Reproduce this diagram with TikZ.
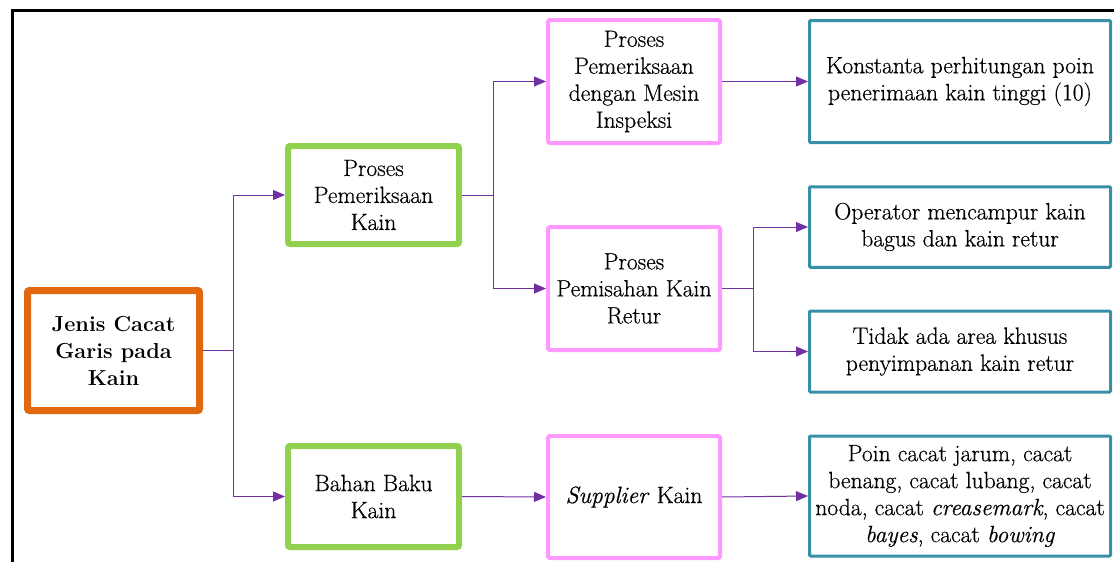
\documentclass[tikz,border=0pt]{standalone}
\usepackage{fontspec}
\setmainfont{Latin Modern Roman}[UprightFeatures={FakeBold=0.5}, ItalicFeatures={FakeBold=0.5}]
\usetikzlibrary{arrows.meta}
\definecolor{orangeB}{HTML}{E0680F}
\definecolor{greenB}{HTML}{92D050}
\definecolor{pinkB}{HTML}{FF99FF}
\definecolor{tealB}{HTML}{3A8FA8}
\definecolor{arrowC}{HTML}{7030A0}
\tikzset{
  box/.style={draw, rectangle, rounded corners=2pt, align=center, inner sep=2pt,
    font=\rmfamily\fontsize{23.6}{27}\selectfont, text=black, fill=white},
  rootbox/.style={box, draw=orangeB, line width=7pt, minimum width=172pt, minimum height=120pt,
    font=\rmfamily\fontsize{21.7}{27}\selectfont\bfseries},
  greenbox/.style={box, draw=greenB, line width=6pt, minimum width=171pt},
  pinkbox/.style={box, draw=pinkB, line width=4pt, minimum width=172pt},
  tealbox/.style={box, draw=tealB, line width=3pt, minimum width=301pt, rounded corners=1pt},
  conn/.style={draw=arrowC, line width=1pt, -{Triangle[length=12pt,width=10pt]}},
  link/.style={draw=arrowC, line width=1pt}
}
\begin{document}
\begin{tikzpicture}[x=1pt,y=-1pt]
\useasboundingbox (0,0) rectangle (1114,562);
% page frame
\draw[line width=3pt, black] (12.5,562) -- (12.5,10.5) -- (1114,10.5);

\node[rootbox] (root) at (113.5,350.5) {Jenis Cacat\\Garis pada\\Kain};

\node[greenbox, minimum height=98pt] (g1) at (373.5,195) {Proses\\Pemeriksaan\\Kain};
\node[greenbox, minimum height=101pt] (g2) at (373.5,496.5) {Bahan Baku\\Kain};

\node[pinkbox, minimum height=123pt] (p1) at (634,81.5) {Proses\\Pemeriksaan\\dengan Mesin\\Inspeksi};
\node[pinkbox, minimum height=123pt] (p2) at (634,288.5) {Proses\\Pemisahan Kain\\Retur};
\node[pinkbox, minimum height=122pt] (p3) at (634,497) {\textit{Supplier} Kain};

\node[tealbox, minimum height=122pt] (t1) at (960,81.5) {Konstanta perhitungan poin\\penerimaan kain tinggi (10)};
\node[tealbox, minimum height=80.5pt] (t2) at (960,227) {Operator mencampur kain\\bagus dan kain retur};
\node[tealbox, minimum height=81pt] (t3) at (960,351.5) {Tidak ada area khusus\\penyimpanan kain retur};
\node[tealbox, minimum height=120pt] (t4) at (960,496) {Poin cacat jarum, cacat\\benang, cacat lubang, cacat\\noda, cacat \textit{creasemark}, cacat\\\textit{bayes}, cacat \textit{bowing}};

% connectors
\coordinate (j1) at ([xshift=30pt]root.east);
\coordinate (j2) at ([xshift=31pt]g1.east);
\coordinate (j3) at ([xshift=31pt]p2.east);
\draw[link] (root.east) -- (j1);
\draw[conn] (j1) |- (g1.west);
\draw[conn] (j1) |- (g2.west);
\draw[link] (g1.east) -- (j2);
\draw[conn] (j2) |- (p1.west);
\draw[conn] (j2) |- (p2.west);
\draw[link] (p2.east) -- (j3);
\draw[conn] (j3) |- (t2.west);
\draw[conn] (j3) |- (t3.west);
\draw[conn] (p1.east) -- (t1.west);
\draw[conn] (g2.east) -- (p3.west);
\draw[conn] (p3.east) -- (t4.west);
\end{tikzpicture}
\end{document}
